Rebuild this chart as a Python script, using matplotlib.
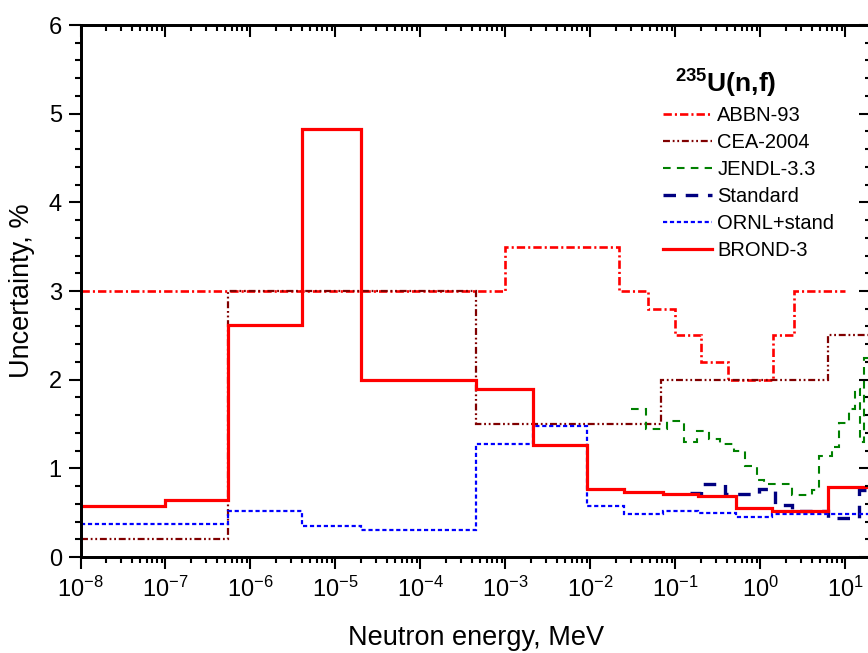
import matplotlib
matplotlib.use("Agg")
import matplotlib.pyplot as plt
from matplotlib.lines import Line2D
from matplotlib.ticker import MultipleLocator, LogLocator

plt.rcParams['font.family'] = ['Liberation Sans', 'DejaVu Sans']
plt.rcParams['mathtext.fontset'] = 'custom'
plt.rcParams['mathtext.rm'] = 'Liberation Sans'
plt.rcParams['mathtext.bf'] = 'Liberation Sans:bold'
plt.rcParams['lines.scale_dashes'] = False

# ---- data: group boundaries (MeV) and uncertainties (%) ----
abbn_edges = [1e-8, 1e-3, 0.0218, 0.047, 0.1, 0.2, 0.41, 1.42, 2.5, 10]
abbn_vals = [3.0, 3.5, 3.0, 2.8, 2.5, 2.2, 2.0, 2.5, 3.0]

cea_edges = [1e-8, 5.5e-7, 4.54e-4, 0.068, 6.3, 20]
cea_vals = [0.2, 3.0, 1.5, 2.0, 2.5]

jendl_edges = [0.0302, 0.0454, 0.0803, 0.127, 0.177, 0.251, 0.330, 0.495,
               0.667, 0.90, 1.09, 2.33, 4.0, 4.85, 6.9, 8.3, 10.9, 12.9,
               14.8, 16.5, 20]
jendl_vals = [1.67, 1.44, 1.53, 1.30, 1.42, 1.33, 1.28, 1.19, 1.03, 0.87,
              0.82, 0.70, 0.76, 1.14, 1.24, 1.51, 1.67, 1.90, 1.30, 2.25]

std_edges = [0.15, 0.20, 0.38, 0.95, 1.47, 2.33, 6.2, 14.4, 20]
std_vals = [0.72, 0.82, 0.71, 0.77, 0.59, 0.52, 0.44, 0.76]

ornl_edges = [1e-8, 5.5e-7, 4e-6, 2e-5, 4.54e-4, 2.1e-3, 9.1e-3, 0.025,
              0.071, 0.186, 0.51, 1.38, 20]
ornl_vals = [0.37, 0.52, 0.35, 0.30, 1.28, 1.48, 0.57, 0.49, 0.52, 0.50,
             0.455, 0.49]

brond_edges = [1e-8, 1e-7, 5.5e-7, 4e-6, 2e-5, 4.54e-4, 2.1e-3, 9.1e-3,
               0.025, 0.071, 0.186, 0.51, 1.38, 6.3, 20]
brond_vals = [0.58, 0.64, 2.62, 4.83, 2.0, 1.89, 1.26, 0.77, 0.73, 0.71,
              0.69, 0.55, 0.52, 0.79]

labels = ['ABBN-93', 'CEA-2004', 'JENDL-3.3', 'Standard', 'ORNL+stand', 'BROND-3']

styles = [
    dict(color='#ff0000', lw=1.9, dashes=(6, 2.2, 1.5, 2.2)),
    dict(color='#800000', lw=1.6, dashes=(5, 2, 1.3, 2, 1.3, 2)),
    dict(color='#008000', lw=1.5, dashes=(5.5, 4.5)),
    dict(color='#000080', lw=2.4, dashes=(9, 7)),
    dict(color='#0000ff', lw=1.6, dashes=(3, 2)),
    dict(color='#ff0000', lw=2.3, dashes=None),
]
series = [(abbn_edges, abbn_vals), (cea_edges, cea_vals),
          (jendl_edges, jendl_vals), (std_edges, std_vals),
          (ornl_edges, ornl_vals), (brond_edges, brond_vals)]

fig = plt.figure(figsize=(8.68, 6.53), dpi=100)
ax = fig.add_axes([80.5 / 868, 96 / 653, (871 - 80.5) / 868, 532 / 653])
ax.set_xscale('log')

handles = []
for (edges, vals), st, lab in zip(series, styles, labels):
    kw = dict(color=st['color'], linewidth=st['lw'])
    s = ax.stairs(vals, edges, baseline=None, **kw)
    if st['dashes'] is not None:
        s.set_linestyle((0, st['dashes']))
    h = Line2D([], [], color=st['color'], linewidth=st['lw'])
    if st['dashes'] is not None:
        h.set_dashes(st['dashes'])
    handles.append(h)

ax.set_xlim(1e-8, 20)
ax.set_ylim(0, 6)

ax.yaxis.set_major_locator(MultipleLocator(1))
ax.yaxis.set_minor_locator(MultipleLocator(0.2))
ax.xaxis.set_major_locator(LogLocator(base=10, numticks=20))
ax.xaxis.set_minor_locator(LogLocator(base=10, subs=range(2, 10), numticks=200))

for sp in ax.spines.values():
    sp.set_linewidth(1.8)

ax.tick_params(which='major', direction='out', length=8.5, width=1.5,
               labelsize=17, pad=5)
ax.tick_params(which='minor', direction='out', length=4.5, width=1.5)
ax.tick_params(axis='x', which='major', pad=6)

# mirrored inward ticks on top and right
axt = ax.twiny()
axt.set_xscale('log')
axt.set_xlim(ax.get_xlim())
axt.xaxis.set_major_locator(LogLocator(base=10, numticks=20))
axt.xaxis.set_minor_locator(LogLocator(base=10, subs=range(2, 10), numticks=200))
axt.tick_params(axis='x', which='major', direction='in', length=8.5, width=1.5,
                labeltop=False)
axt.tick_params(axis='x', which='minor', direction='in', length=4.5, width=1.5)
axr = ax.twinx()
axr.set_ylim(ax.get_ylim())
axr.yaxis.set_major_locator(MultipleLocator(1))
axr.yaxis.set_minor_locator(MultipleLocator(0.2))
axr.tick_params(axis='y', which='major', direction='in', length=8.5, width=1.5,
                labelright=False)
axr.tick_params(axis='y', which='minor', direction='in', length=4.5, width=1.5)
for a in (axt, axr):
    for sp in a.spines.values():
        sp.set_linewidth(1.8)

ax.set_xlabel('Neutron energy, MeV', fontsize=19.5, labelpad=16)
ax.set_ylabel('Uncertainty, %', fontsize=19.5, labelpad=10)

leg = ax.legend(handles, labels, loc='upper left',
                bbox_to_anchor=(663 / 868, 1 - 106 / 653),
                bbox_transform=fig.transFigure, frameon=False,
                borderpad=0, borderaxespad=0, fontsize=14.5,
                handlelength=2.45, handletextpad=0.25, labelspacing=0.40)

fig.text(675 / 868, 1 - 93 / 653, r'$\mathbf{^{235}}$U(n,f)', fontsize=19,
         fontweight='bold', ha='left', va='baseline')

fig.savefig('out.png', dpi=100)
